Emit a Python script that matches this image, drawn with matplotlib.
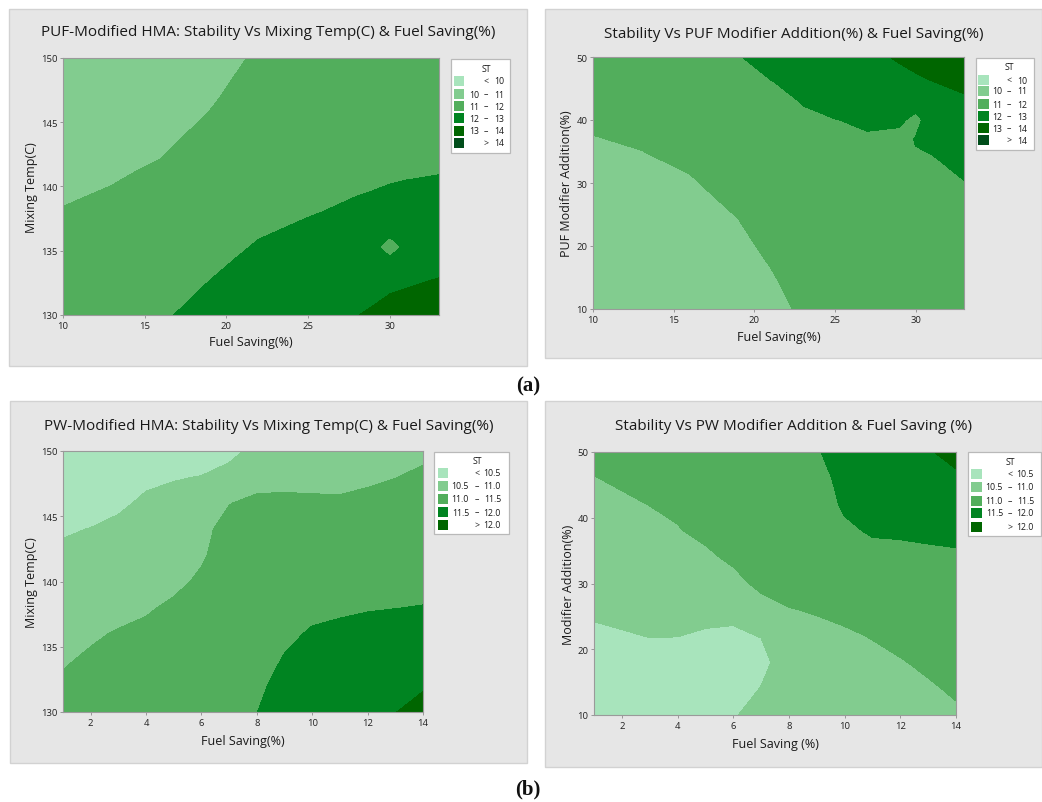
import numpy as np
import matplotlib
matplotlib.use("Agg")
import matplotlib.pyplot as plt
from matplotlib.patches import Rectangle

plt.rcParams['font.family'] = ['Open Sans', 'DejaVu Sans']

W, H, DPI = 1042, 803, 100

# ---------------- data (stability ST read from the contour maps) ----------------
# (a) left: PUF-modified HMA, ST vs fuel saving (x) and mixing temp (y)
puf_temp_fuel = [10, 13, 16, 19, 22, 25, 28, 29, 30, 31, 33]
puf_temp_temp = [130, 132, 134.3, 135.3, 136.3, 138, 141, 144, 147, 150]
puf_temp_st = [
    [11.50, 11.68, 11.91, 12.26, 12.53, 12.73, 12.99, 13.09, 13.23, 13.30, 13.41],
    [11.38, 11.54, 11.76, 12.06, 12.35, 12.53, 12.76, 12.85, 12.95, 13.01, 13.11],
    [11.25, 11.39, 11.59, 11.87, 12.14, 12.30, 12.50, 12.57, 12.23, 12.73, 12.83],
    [11.19, 11.32, 11.51, 11.80, 12.05, 12.20, 12.39, 12.38, 11.30, 12.38, 12.70],
    [11.13, 11.26, 11.44, 11.72, 11.97, 12.10, 12.27, 12.33, 12.23, 12.47, 12.58],
    [11.03, 11.14, 11.31, 11.60, 11.87, 11.97, 12.08, 12.13, 12.19, 12.25, 12.36],
    [10.83, 10.94, 11.09, 11.37, 11.68, 11.82, 11.89, 11.90, 11.93, 11.95, 11.99],
    [10.63, 10.72, 10.86, 11.15, 11.49, 11.67, 11.74, 11.76, 11.78, 11.80, 11.85],
    [10.43, 10.51, 10.63, 10.92, 11.30, 11.52, 11.59, 11.61, 11.63, 11.65, 11.70],
    [10.23, 10.29, 10.40, 10.69, 11.11, 11.37, 11.44, 11.46, 11.48, 11.50, 11.55],
]

# (a) right: ST vs fuel saving (x) and PUF modifier addition (y)
puf_add_fuel = [10, 13, 16, 19, 21, 23, 25, 27, 29, 30, 31, 33]
puf_add_mod = [10, 15, 20, 25, 30, 34, 37, 40, 43, 46, 50]
puf_add_st = [
    [10.21, 10.27, 10.38, 10.59, 10.81, 11.09, 11.33, 11.41, 11.45, 11.50, 11.55, 11.60],
    [10.36, 10.42, 10.52, 10.73, 10.95, 11.23, 11.44, 11.51, 11.55, 11.60, 11.64, 11.70],
    [10.50, 10.56, 10.66, 10.87, 11.11, 11.37, 11.55, 11.61, 11.64, 11.68, 11.72, 11.78],
    [10.64, 10.70, 10.81, 11.02, 11.27, 11.51, 11.66, 11.71, 11.73, 11.76, 11.80, 11.86],
    [10.78, 10.85, 10.95, 11.21, 11.44, 11.65, 11.77, 11.81, 11.82, 11.84, 11.88, 11.97],
    [10.90, 10.96, 11.09, 11.36, 11.57, 11.77, 11.86, 11.90, 11.90, 11.92, 11.96, 12.26],
    [10.98, 11.06, 11.21, 11.47, 11.67, 11.85, 11.92, 11.96, 11.70, 12.05, 12.22, 12.47],
    [11.08, 11.16, 11.33, 11.58, 11.77, 11.94, 11.99, 12.06, 12.20, 11.70, 12.50, 12.69],
    [11.17, 11.27, 11.44, 11.69, 11.87, 12.02, 12.16, 12.28, 12.42, 12.50, 12.76, 12.90],
    [11.26, 11.38, 11.56, 11.81, 11.97, 12.21, 12.35, 12.50, 12.71, 12.85, 12.98, 13.16],
    [11.38, 11.53, 11.71, 11.96, 12.29, 12.44, 12.61, 12.78, 13.10, 13.26, 13.38, 13.56],
]

# (b) left: PW-modified HMA, ST vs fuel saving (x) and mixing temp (y)
pw_temp_fuel = [1, 2, 3, 4, 5, 6, 7, 8, 9, 10, 11, 12, 13, 14]
pw_temp_temp = [130, 132, 134, 136, 138, 140, 142, 144, 146, 148, 150]
pw_temp_st = [
    [11.09, 11.135, 11.17, 11.19, 11.23, 11.24, 11.36, 11.495, 11.69, 11.78, 11.775, 11.86, 11.99, 12.17],
    [11.04, 11.085, 11.12, 11.14, 11.18, 11.20, 11.32, 11.44, 11.60, 11.69, 11.70, 11.77, 11.87, 11.953],
    [10.975, 11.035, 11.07, 11.09, 11.13, 11.16, 11.27, 11.38, 11.52, 11.61, 11.626, 11.67, 11.74, 11.805],
    [10.875, 10.966, 11.02, 11.04, 11.08, 11.11, 11.23, 11.32, 11.44, 11.53, 11.55, 11.58, 11.62, 11.66],
    [10.775, 10.852, 10.92, 10.98, 11.03, 11.07, 11.18, 11.26, 11.36, 11.43, 11.466, 11.484, 11.495, 11.51],
    [10.675, 10.739, 10.81, 10.88, 10.96, 11.027, 11.14, 11.20, 11.28, 11.33, 11.36, 11.38, 11.40, 11.415],
    [10.575, 10.625, 10.69, 10.77, 10.84, 10.98, 11.08, 11.14, 11.20, 11.23, 11.25, 11.27, 11.30, 11.32],
    [10.46, 10.511, 10.58, 10.67, 10.72, 10.957, 11.057, 11.08, 11.12, 11.13, 11.14, 11.17, 11.20, 11.23],
    [10.29, 10.35, 10.44, 10.56, 10.60, 10.90, 10.995, 11.04, 11.05, 11.045, 11.035, 11.06, 11.10, 11.14],
    [10.125, 10.18, 10.27, 10.43, 10.48, 10.51, 10.65, 10.93, 10.93, 10.92, 10.93, 10.96, 10.995, 11.05],
    [9.96, 10.02, 10.11, 10.27, 10.31, 10.34, 10.38, 10.62, 10.73, 10.72, 10.72, 10.80, 10.85, 10.94],
]

# (b) right: ST vs fuel saving (x) and PW modifier addition (y)
pw_add_fuel = [1, 2, 3, 4, 5, 6, 7, 8, 9, 10, 11, 12, 13, 14]
pw_add_mod = [10, 14, 18, 22, 26, 30, 34, 38, 42, 46, 50]
pw_add_st = [
    [10.04, 10.075, 10.11, 10.105, 10.057, 10.49, 10.5455, 10.62, 10.70, 10.75, 10.78, 10.80, 10.86, 10.95],
    [10.18, 10.21, 10.24, 10.24, 10.19, 10.234, 10.52, 10.68, 10.77, 10.83, 10.86, 10.87, 10.96, 11.044],
    [10.31, 10.34, 10.38, 10.37, 10.32, 10.30, 10.34, 10.797, 10.86, 10.90, 10.93, 10.98, 11.058, 11.13],
    [10.44, 10.475, 10.507, 10.504, 10.457, 10.433, 10.513, 10.88, 10.93, 10.96, 11.013, 11.089, 11.154, 11.21],
    [10.55, 10.576, 10.607, 10.62, 10.606, 10.60, 10.836, 10.99, 11.02, 11.069, 11.15, 11.20, 11.25, 11.30],
    [10.64, 10.67, 10.706, 10.74, 10.764, 10.868, 11.10, 11.104, 11.12, 11.19, 11.28, 11.31, 11.347, 11.38],
    [10.73, 10.76, 10.806, 10.856, 10.92, 11.08, 11.16, 11.17, 11.20, 11.31, 11.41, 11.42, 11.443, 11.466],
    [10.81, 10.855, 10.905, 10.974, 11.10, 11.19, 11.22, 11.24, 11.28, 11.45, 11.53, 11.54, 11.557, 11.56],
    [10.90, 10.95, 11.005, 11.078, 11.20, 11.25, 11.29, 11.31, 11.36, 11.54, 11.63, 11.66, 11.695, 11.767],
    [10.99, 11.045, 11.105, 11.18, 11.30, 11.32, 11.36, 11.38, 11.43, 11.56, 11.73, 11.78, 11.834, 11.933],
    [11.09, 11.145, 11.205, 11.28, 11.40, 11.39, 11.43, 11.45, 11.488, 11.568, 11.83, 11.90, 11.97, 12.12],
]

puf_levels = [0, 10, 11, 12, 13, 14, 100]
puf_labels = [("", "<", "10"), ("10", "\u2013", "11"), ("11", "\u2013", "12"),
              ("12", "\u2013", "13"), ("13", "\u2013", "14"), ("", ">", "14")]
pw_levels = [0, 10.5, 11, 11.5, 12, 100]
pw_labels = [("", "<", "10.5"), ("10.5", "\u2013", "11.0"), ("11.0", "\u2013", "11.5"),
             ("11.5", "\u2013", "12.0"), ("", ">", "12.0")]

greens6 = ['#a8e4bc', '#82cc8f', '#52ae5c', '#008421', '#006600', '#004d1a']
greens5 = ['#a8e4bc', '#82cc8f', '#52ae5c', '#008421', '#006600']

# ---------------- drawing ----------------
fig = plt.figure(figsize=(W / DPI, H / DPI), dpi=DPI)


def fx(x):
    return x / W


def fy(y):
    return 1 - y / H


def frect(x0, y0, x1, y1, **kw):
    r = Rectangle((fx(x0), fy(y1)), (x1 - x0) / W, (y1 - y0) / H,
                  transform=fig.transFigure, **kw)
    fig.patches.append(r)
    return r


def ftext(x, y, s, **kw):
    return fig.text(fx(x), fy(y), s, **kw)


def panel(box, plot, title, title_y, xlabel, xlab_y, ylabel, ylab_x,
          xs, ys, zs, levels, colors, xlim, ylim, xticks, yticks):
    frect(*box, facecolor='#e6e6e6', edgecolor='#d2d2d2', lw=1.0, zorder=-5)
    x0, y0, x1, y1 = plot
    ax = fig.add_axes([fx(x0), fy(y1), (x1 - x0) / W, (y1 - y0) / H], zorder=2)
    ax.contourf(np.array(xs), np.array(ys), np.array(zs), levels=levels, colors=colors,
                antialiased=False)
    ax.set_xlim(*xlim)
    ax.set_ylim(*ylim)
    ax.set_xticks(xticks)
    ax.set_yticks(yticks)
    ax.tick_params(labelsize=6.8, length=2.5, width=0.6, color='#8a8a8a', pad=1.5,
                   labelcolor='#222222')
    for sp in ax.spines.values():
        sp.set_color('#9a9a9a')
        sp.set_linewidth(0.8)
    ftext((box[0] + box[2]) / 2, title_y, title, ha='center', va='center',
          fontsize=11, color='#1a1a1a')
    ftext((x0 + x1) / 2, xlab_y, xlabel, ha='center', va='center', fontsize=9,
          color='#1a1a1a')
    ftext(ylab_x, (y0 + y1) / 2, ylabel, ha='center', va='center', fontsize=9,
          rotation=90, color='#1a1a1a')
    return ax


def legend(box, title_xy, rows_y, sw_x, col_l, col_s, col_r, entries, colors):
    frect(*box, facecolor='white', edgecolor='#b9b9b9', lw=0.9, zorder=3)
    ftext(title_xy[0], title_xy[1], 'ST', ha='center', va='center', fontsize=6.3,
          color='#1a1a1a', zorder=5)
    for (lo, sym, hi), c, ry in zip(entries, colors, rows_y):
        frect(sw_x[0], ry - 5, sw_x[1], ry + 5, facecolor=c, edgecolor='none', zorder=4)
        if lo:
            ftext(col_l, ry, lo, ha='right', va='center', fontsize=6.3, color='#1a1a1a',
                  zorder=5)
        ftext(col_s, ry, sym, ha='center', va='center', fontsize=6.3, color='#1a1a1a',
              zorder=5)
        ftext(col_r, ry, hi, ha='right', va='center', fontsize=6.3, color='#1a1a1a',
              zorder=5)


# (a) left
panel((9, 10, 527, 367), (63, 59, 439, 316),
      'PUF-Modified HMA: Stability Vs Mixing Temp(C) & Fuel Saving(%)', 33,
      'Fuel Saving(%)', 343, 'Mixing Temp(C)', 32,
      puf_temp_fuel, puf_temp_temp, puf_temp_st, puf_levels, greens6,
      (10, 33), (130, 150), [10, 15, 20, 25, 30], [130, 135, 140, 145, 150])
legend((451, 60, 510, 154), (486, 69), [82, 95, 107, 119, 132, 144], (454, 464),
       479, 486, 504, puf_labels, greens6)

# (a) right
panel((545, 10, 1042, 359), (593, 58, 964, 310),
      'Stability Vs PUF Modifier Addition(%) & Fuel Saving(%)', 34,
      'Fuel Saving(%)', 338, 'PUF Modifier Addition(%)', 567,
      puf_add_fuel, puf_add_mod, puf_add_st, puf_levels, greens6,
      (10, 33), (10, 50), [10, 15, 20, 25, 30], [10, 20, 30, 40, 50])
legend((976, 59, 1034, 151), (1009, 68), [81, 92, 105, 117, 129, 141], (978, 989),
       1002, 1009, 1027, puf_labels, greens6)

# (b) left
panel((10, 402, 527, 764), (63, 452, 423, 713),
      'PW-Modified HMA: Stability Vs Mixing Temp(C) & Fuel Saving(%)', 427,
      'Fuel Saving(%)', 742, 'Mixing Temp(C)', 32,
      pw_temp_fuel, pw_temp_temp, pw_temp_st, pw_levels, greens5,
      (1, 14), (130, 150), [2, 4, 6, 8, 10, 12, 14], [130, 135, 140, 145, 150])
legend((434, 453, 509, 535), (477, 462), [474, 487, 500, 513, 526], (438, 448),
       469, 477, 501, pw_labels, greens5)

# (b) right
panel((545, 402, 1042, 768), (594, 453, 956, 716),
      'Stability Vs PW Modifier Addition & Fuel Saving (%)', 427,
      'Fuel Saving (%)', 745, 'Modifier Addition(%)', 568,
      pw_add_fuel, pw_add_mod, pw_add_st, pw_levels, greens5,
      (1, 14), (10, 50), [2, 4, 6, 8, 10, 12, 14], [10, 20, 30, 40, 50])
legend((968, 453, 1041, 537), (1010, 463), [475, 488, 502, 514, 528], (971, 982),
       1003, 1010, 1034, pw_labels, greens5)

# sub-figure labels
ftext(528, 386, '(a)', ha='center', va='center', fontsize=15, fontweight='bold',
      family=['Liberation Serif', 'DejaVu Serif'], color='#111111')
ftext(528, 789, '(b)', ha='center', va='center', fontsize=15, fontweight='bold',
      family=['Liberation Serif', 'DejaVu Serif'], color='#111111')

fig.savefig('out.png', dpi=DPI, facecolor='white')
